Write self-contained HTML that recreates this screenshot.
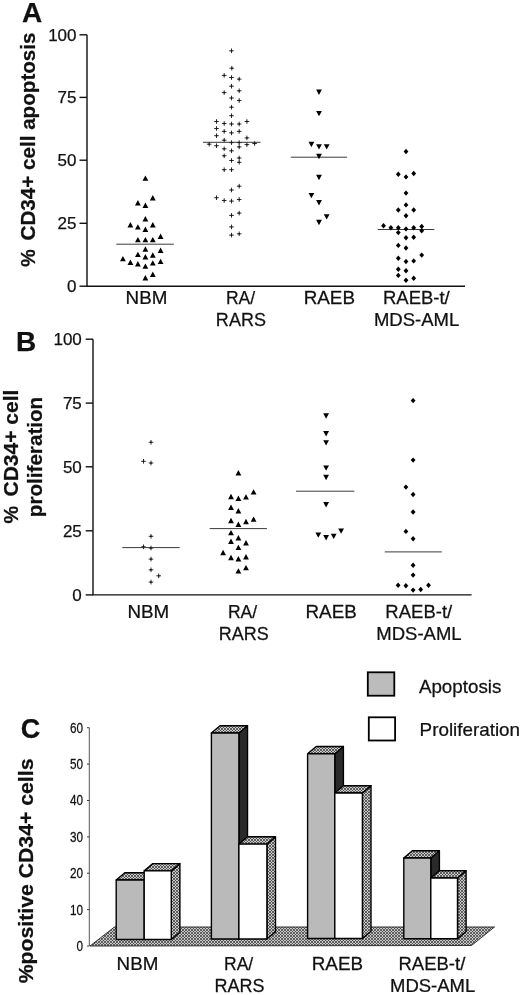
<!DOCTYPE html>
<html><head><meta charset="utf-8"><style>
html,body{margin:0;padding:0;background:#fff;width:520px;height:995px;overflow:hidden}
svg{display:block;filter:blur(0.3px)}
text{font-family:"Liberation Sans",sans-serif;fill:#111;stroke:#111;stroke-width:0.25px}
.pl{font-weight:bold;font-size:27px}
.tk{font-size:17px}
.xl{font-size:17.5px}
.yl{font-weight:bold;font-size:21px}
.lg{font-size:18px}
.tc{font-size:14px}
</style></head><body>
<svg width="520" height="995" viewBox="0 0 520 995">
<defs>
<pattern id="hatch" width="3" height="3" patternUnits="userSpaceOnUse">
<rect width="3" height="3" fill="#c8c8c8"/>
<path d="M-0.5 -0.5L3.5 3.5M3.5 -0.5L-0.5 3.5" stroke="#444" stroke-width="0.8"/>
</pattern>
</defs>
<rect width="520" height="995" fill="#fff"/>

<text x="32.05" y="21.7" class="pl" style="font-size:28px" text-anchor="middle">A</text>
<g stroke="#111" stroke-width="1.4" fill="none">
<path d="M87 34.8V286.2H465"/>
<path d="M79.5 34.8H87"/>
<path d="M79.5 97.4H87"/>
<path d="M79.5 160.2H87"/>
<path d="M79.5 223.3H87"/>
<path d="M79.5 286.2H87"/>
</g>
<g class="tk" text-anchor="end">
<text x="76.5" y="40.8">100</text>
<text x="76.5" y="103.4">75</text>
<text x="76.5" y="166.2">50</text>
<text x="76.5" y="229.3">25</text>
<text x="76.5" y="292.2">0</text>
</g>
<text class="yl" transform="translate(34.6,258.05) rotate(-90) scale(0.9389,1)" text-anchor="middle">%</text>
<text class="yl" transform="translate(34.6,136.45) rotate(-90) scale(0.9824,1)" text-anchor="middle">CD34+ cell apoptosis</text>
<g class="xl" text-anchor="middle">
<text transform="translate(146.45,303.8) scale(1.075,1)" x="0" y="0">NBM</text>
<text transform="translate(240.50,303.8) scale(1.000,1)" x="0" y="0">RA/</text>
<text transform="translate(240.89,326) scale(1.030,1)" x="0" y="0">RARS</text>
<text transform="translate(329.31,303.8) scale(1.078,1)" x="0" y="0">RAEB</text>
<text transform="translate(416.34,303.8) scale(1.058,1)" x="0" y="0">RAEB-t/</text>
<text transform="translate(416.57,326) scale(1.057,1)" x="0" y="0">MDS-AML</text>
</g>
<g stroke="#3a3a3a" stroke-width="1">
<path d="M116.3 244.2H173.8M203 142.3H260.5M290.8 157.2H347.1M377.7 229.5H434.3"/>
</g>
<g fill="#000"><path d="M145.4 175.4l2.9 5.4h-5.8z"/><path d="M152.8 195.0l2.9 5.4h-5.8z"/><path d="M137.9 200.0l2.9 5.4h-5.8z"/><path d="M145.4 202.5l2.9 5.4h-5.8z"/><path d="M145.4 216.0l2.9 5.4h-5.8z"/><path d="M130.4 222.1l2.9 5.4h-5.8z"/><path d="M137.9 224.2l2.9 5.4h-5.8z"/><path d="M152.8 222.1l2.9 5.4h-5.8z"/><path d="M145.4 226.6l2.9 5.4h-5.8z"/><path d="M160.6 233.6l2.9 5.4h-5.8z"/><path d="M137.9 236.9l2.9 5.4h-5.8z"/><path d="M145.4 236.9l2.9 5.4h-5.8z"/><path d="M152.8 236.9l2.9 5.4h-5.8z"/><path d="M145.4 246.3l2.9 5.4h-5.8z"/><path d="M160.6 247.5l2.9 5.4h-5.8z"/><path d="M137.9 251.7l2.9 5.4h-5.8z"/><path d="M152.8 252.3l2.9 5.4h-5.8z"/><path d="M145.4 254.1l2.9 5.4h-5.8z"/><path d="M122.9 255.9l2.9 5.4h-5.8z"/><path d="M130.4 259.6l2.9 5.4h-5.8z"/><path d="M137.9 261.1l2.9 5.4h-5.8z"/><path d="M152.8 260.2l2.9 5.4h-5.8z"/><path d="M160.6 258.7l2.9 5.4h-5.8z"/><path d="M145.4 263.4l2.9 5.4h-5.8z"/><path d="M152.8 271.6l2.9 5.4h-5.8z"/><path d="M145.4 275.0l2.9 5.4h-5.8z"/><path d="M319.0 94.9l2.9 -5.4h-5.8z"/><path d="M319.0 116.3l2.9 -5.4h-5.8z"/><path d="M311.4 147.2l2.9 -5.4h-5.8z"/><path d="M319.0 149.6l2.9 -5.4h-5.8z"/><path d="M326.7 149.6l2.9 -5.4h-5.8z"/><path d="M319.0 159.2l2.9 -5.4h-5.8z"/><path d="M319.0 180.2l2.9 -5.4h-5.8z"/><path d="M311.4 198.3l2.9 -5.4h-5.8z"/><path d="M319.0 205.4l2.9 -5.4h-5.8z"/><path d="M326.7 219.6l2.9 -5.4h-5.8z"/><path d="M319.0 225.2l2.9 -5.4h-5.8z"/><path d="M406.0 148.8l2.4 2.7l-2.4 2.7l-2.4 -2.7z"/><path d="M398.3 171.5l2.4 2.7l-2.4 2.7l-2.4 -2.7z"/><path d="M406.0 174.2l2.4 2.7l-2.4 2.7l-2.4 -2.7z"/><path d="M413.7 170.8l2.4 2.7l-2.4 2.7l-2.4 -2.7z"/><path d="M406.0 190.4l2.4 2.7l-2.4 2.7l-2.4 -2.7z"/><path d="M406.0 202.2l2.4 2.7l-2.4 2.7l-2.4 -2.7z"/><path d="M398.3 207.3l2.4 2.7l-2.4 2.7l-2.4 -2.7z"/><path d="M413.7 207.3l2.4 2.7l-2.4 2.7l-2.4 -2.7z"/><path d="M406.0 213.0l2.4 2.7l-2.4 2.7l-2.4 -2.7z"/><path d="M383.5 223.1l2.4 2.7l-2.4 2.7l-2.4 -2.7z"/><path d="M390.9 225.0l2.4 2.7l-2.4 2.7l-2.4 -2.7z"/><path d="M398.3 225.0l2.4 2.7l-2.4 2.7l-2.4 -2.7z"/><path d="M406.0 226.2l2.4 2.7l-2.4 2.7l-2.4 -2.7z"/><path d="M413.7 225.0l2.4 2.7l-2.4 2.7l-2.4 -2.7z"/><path d="M421.7 223.8l2.4 2.7l-2.4 2.7l-2.4 -2.7z"/><path d="M421.7 228.1l2.4 2.7l-2.4 2.7l-2.4 -2.7z"/><path d="M398.3 229.9l2.4 2.7l-2.4 2.7l-2.4 -2.7z"/><path d="M406.0 235.0l2.4 2.7l-2.4 2.7l-2.4 -2.7z"/><path d="M413.7 234.5l2.4 2.7l-2.4 2.7l-2.4 -2.7z"/><path d="M398.3 242.7l2.4 2.7l-2.4 2.7l-2.4 -2.7z"/><path d="M406.0 245.3l2.4 2.7l-2.4 2.7l-2.4 -2.7z"/><path d="M421.7 252.4l2.4 2.7l-2.4 2.7l-2.4 -2.7z"/><path d="M398.3 255.5l2.4 2.7l-2.4 2.7l-2.4 -2.7z"/><path d="M406.0 258.8l2.4 2.7l-2.4 2.7l-2.4 -2.7z"/><path d="M413.7 258.2l2.4 2.7l-2.4 2.7l-2.4 -2.7z"/><path d="M398.3 266.5l2.4 2.7l-2.4 2.7l-2.4 -2.7z"/><path d="M406.0 268.1l2.4 2.7l-2.4 2.7l-2.4 -2.7z"/><path d="M398.3 272.7l2.4 2.7l-2.4 2.7l-2.4 -2.7z"/><path d="M406.0 277.6l2.4 2.7l-2.4 2.7l-2.4 -2.7z"/><path d="M413.7 275.5l2.4 2.7l-2.4 2.7l-2.4 -2.7z"/></g>
<g stroke="#222" stroke-width="0.95" fill="none"><path d="M229.2 50.8h4.6M231.5 48.5v4.6"/><rect x="230.8" y="50.1" width="1.4" height="1.4" fill="#111" stroke="none"/><path d="M229.5 68.2h4.6M231.8 65.9v4.6"/><rect x="231.1" y="67.5" width="1.4" height="1.4" fill="#111" stroke="none"/><path d="M221.9 75.4h4.6M224.2 73.1v4.6"/><rect x="223.5" y="74.7" width="1.4" height="1.4" fill="#111" stroke="none"/><path d="M229.2 77.5h4.6M231.5 75.2v4.6"/><rect x="230.8" y="76.8" width="1.4" height="1.4" fill="#111" stroke="none"/><path d="M236.9 79.1h4.6M239.2 76.8v4.6"/><rect x="238.5" y="78.4" width="1.4" height="1.4" fill="#111" stroke="none"/><path d="M229.2 86.2h4.6M231.5 83.9v4.6"/><rect x="230.8" y="85.5" width="1.4" height="1.4" fill="#111" stroke="none"/><path d="M221.9 92.6h4.6M224.2 90.3v4.6"/><rect x="223.5" y="91.9" width="1.4" height="1.4" fill="#111" stroke="none"/><path d="M236.9 90.8h4.6M239.2 88.5v4.6"/><rect x="238.5" y="90.1" width="1.4" height="1.4" fill="#111" stroke="none"/><path d="M229.2 98.0h4.6M231.5 95.7v4.6"/><rect x="230.8" y="97.3" width="1.4" height="1.4" fill="#111" stroke="none"/><path d="M236.9 100.5h4.6M239.2 98.2v4.6"/><rect x="238.5" y="99.8" width="1.4" height="1.4" fill="#111" stroke="none"/><path d="M229.2 107.2h4.6M231.5 104.9v4.6"/><rect x="230.8" y="106.5" width="1.4" height="1.4" fill="#111" stroke="none"/><path d="M229.2 115.7h4.6M231.5 113.4v4.6"/><rect x="230.8" y="115.0" width="1.4" height="1.4" fill="#111" stroke="none"/><path d="M214.2 121.5h4.6M216.5 119.2v4.6"/><rect x="215.8" y="120.8" width="1.4" height="1.4" fill="#111" stroke="none"/><path d="M244.6 121.5h4.6M246.9 119.2v4.6"/><rect x="246.2" y="120.8" width="1.4" height="1.4" fill="#111" stroke="none"/><path d="M221.9 123.5h4.6M224.2 121.2v4.6"/><rect x="223.5" y="122.8" width="1.4" height="1.4" fill="#111" stroke="none"/><path d="M229.2 124.0h4.6M231.5 121.7v4.6"/><rect x="230.8" y="123.3" width="1.4" height="1.4" fill="#111" stroke="none"/><path d="M236.9 124.0h4.6M239.2 121.7v4.6"/><rect x="238.5" y="123.3" width="1.4" height="1.4" fill="#111" stroke="none"/><path d="M214.2 128.5h4.6M216.5 126.2v4.6"/><rect x="215.8" y="127.8" width="1.4" height="1.4" fill="#111" stroke="none"/><path d="M221.9 131.4h4.6M224.2 129.1v4.6"/><rect x="223.5" y="130.7" width="1.4" height="1.4" fill="#111" stroke="none"/><path d="M229.2 132.9h4.6M231.5 130.6v4.6"/><rect x="230.8" y="132.2" width="1.4" height="1.4" fill="#111" stroke="none"/><path d="M236.9 131.4h4.6M239.2 129.1v4.6"/><rect x="238.5" y="130.7" width="1.4" height="1.4" fill="#111" stroke="none"/><path d="M214.2 135.7h4.6M216.5 133.4v4.6"/><rect x="215.8" y="135.0" width="1.4" height="1.4" fill="#111" stroke="none"/><path d="M221.9 140.2h4.6M224.2 137.9v4.6"/><rect x="223.5" y="139.5" width="1.4" height="1.4" fill="#111" stroke="none"/><path d="M244.6 137.9h4.6M246.9 135.6v4.6"/><rect x="246.2" y="137.2" width="1.4" height="1.4" fill="#111" stroke="none"/><path d="M206.9 144.2h4.6M209.2 141.9v4.6"/><rect x="208.5" y="143.5" width="1.4" height="1.4" fill="#111" stroke="none"/><path d="M214.2 145.7h4.6M216.5 143.4v4.6"/><rect x="215.8" y="145.0" width="1.4" height="1.4" fill="#111" stroke="none"/><path d="M229.2 142.6h4.6M231.5 140.3v4.6"/><rect x="230.8" y="141.9" width="1.4" height="1.4" fill="#111" stroke="none"/><path d="M236.9 142.6h4.6M239.2 140.3v4.6"/><rect x="238.5" y="141.9" width="1.4" height="1.4" fill="#111" stroke="none"/><path d="M244.6 144.6h4.6M246.9 142.3v4.6"/><rect x="246.2" y="143.9" width="1.4" height="1.4" fill="#111" stroke="none"/><path d="M252.3 143.5h4.6M254.6 141.2v4.6"/><rect x="253.9" y="142.8" width="1.4" height="1.4" fill="#111" stroke="none"/><path d="M236.9 146.9h4.6M239.2 144.6v4.6"/><rect x="238.5" y="146.2" width="1.4" height="1.4" fill="#111" stroke="none"/><path d="M221.9 148.8h4.6M224.2 146.5v4.6"/><rect x="223.5" y="148.1" width="1.4" height="1.4" fill="#111" stroke="none"/><path d="M229.2 150.8h4.6M231.5 148.5v4.6"/><rect x="230.8" y="150.1" width="1.4" height="1.4" fill="#111" stroke="none"/><path d="M221.9 155.8h4.6M224.2 153.5v4.6"/><rect x="223.5" y="155.1" width="1.4" height="1.4" fill="#111" stroke="none"/><path d="M229.2 160.5h4.6M231.5 158.2v4.6"/><rect x="230.8" y="159.8" width="1.4" height="1.4" fill="#111" stroke="none"/><path d="M236.9 158.0h4.6M239.2 155.7v4.6"/><rect x="238.5" y="157.3" width="1.4" height="1.4" fill="#111" stroke="none"/><path d="M236.9 162.3h4.6M239.2 160.0v4.6"/><rect x="238.5" y="161.6" width="1.4" height="1.4" fill="#111" stroke="none"/><path d="M221.9 169.7h4.6M224.2 167.4v4.6"/><rect x="223.5" y="169.0" width="1.4" height="1.4" fill="#111" stroke="none"/><path d="M229.2 169.7h4.6M231.5 167.4v4.6"/><rect x="230.8" y="169.0" width="1.4" height="1.4" fill="#111" stroke="none"/><path d="M236.9 186.2h4.6M239.2 183.9v4.6"/><rect x="238.5" y="185.5" width="1.4" height="1.4" fill="#111" stroke="none"/><path d="M229.2 190.0h4.6M231.5 187.7v4.6"/><rect x="230.8" y="189.3" width="1.4" height="1.4" fill="#111" stroke="none"/><path d="M214.2 197.7h4.6M216.5 195.4v4.6"/><rect x="215.8" y="197.0" width="1.4" height="1.4" fill="#111" stroke="none"/><path d="M221.9 200.5h4.6M224.2 198.2v4.6"/><rect x="223.5" y="199.8" width="1.4" height="1.4" fill="#111" stroke="none"/><path d="M229.2 201.1h4.6M231.5 198.8v4.6"/><rect x="230.8" y="200.4" width="1.4" height="1.4" fill="#111" stroke="none"/><path d="M236.9 199.5h4.6M239.2 197.2v4.6"/><rect x="238.5" y="198.8" width="1.4" height="1.4" fill="#111" stroke="none"/><path d="M229.2 215.4h4.6M231.5 213.1v4.6"/><rect x="230.8" y="214.7" width="1.4" height="1.4" fill="#111" stroke="none"/><path d="M236.9 213.1h4.6M239.2 210.8v4.6"/><rect x="238.5" y="212.4" width="1.4" height="1.4" fill="#111" stroke="none"/><path d="M229.2 226.9h4.6M231.5 224.6v4.6"/><rect x="230.8" y="226.2" width="1.4" height="1.4" fill="#111" stroke="none"/><path d="M229.2 235.1h4.6M231.5 232.8v4.6"/><rect x="230.8" y="234.4" width="1.4" height="1.4" fill="#111" stroke="none"/><path d="M236.9 233.8h4.6M239.2 231.5v4.6"/><rect x="238.5" y="233.1" width="1.4" height="1.4" fill="#111" stroke="none"/></g>
<text x="26.15" y="350.6" class="pl" style="font-size:28px" text-anchor="middle">B</text>
<g stroke="#111" stroke-width="1.4" fill="none">
<path d="M93 339.2V594.9H471.6"/>
<path d="M85.7 339.2H93"/>
<path d="M85.7 403.1H93"/>
<path d="M85.7 466.8H93"/>
<path d="M85.7 530.8H93"/>
<path d="M85.7 594.9H93"/>
</g>
<g class="tk" text-anchor="end">
<text x="81.8" y="345.2">100</text>
<text x="81.8" y="409.1">75</text>
<text x="81.8" y="472.8">50</text>
<text x="81.8" y="536.8">25</text>
<text x="81.8" y="600.9">0</text>
</g>
<text class="yl" transform="translate(17.9,514.75) rotate(-90) scale(0.9389,1)" text-anchor="middle">%</text>
<text class="yl" transform="translate(17.9,443.10) rotate(-90) scale(1.0000,1)" text-anchor="middle">CD34+ cell</text>
<text class="yl" transform="translate(41.8,457.00) rotate(-90) scale(0.9833,1)" text-anchor="middle">proliferation</text>
<g class="xl" text-anchor="middle">
<text transform="translate(148.35,617.9) scale(1.075,1)" x="0" y="0">NBM</text>
<text transform="translate(242.50,617.9) scale(1.000,1)" x="0" y="0">RA/</text>
<text transform="translate(243.79,640.2) scale(1.030,1)" x="0" y="0">RARS</text>
<text transform="translate(331.16,617.9) scale(1.078,1)" x="0" y="0">RAEB</text>
<text transform="translate(418.74,617.9) scale(1.058,1)" x="0" y="0">RAEB-t/</text>
<text transform="translate(418.97,640.2) scale(1.057,1)" x="0" y="0">MDS-AML</text>
</g>
<g stroke="#3a3a3a" stroke-width="1">
<path d="M122.3 547.6H179.7M209.7 528.6H266.9M296 491.2H354.3M384.8 551.9H441.8"/>
</g>
<g fill="#000"><path d="M238.4 470.0l2.9 5.4h-5.8z"/><path d="M253.6 489.2l2.9 5.4h-5.8z"/><path d="M231.0 493.8l2.9 5.4h-5.8z"/><path d="M238.4 495.6l2.9 5.4h-5.8z"/><path d="M246.0 494.2l2.9 5.4h-5.8z"/><path d="M231.0 504.6l2.9 5.4h-5.8z"/><path d="M238.4 508.1l2.9 5.4h-5.8z"/><path d="M231.0 517.8l2.9 5.4h-5.8z"/><path d="M246.0 518.8l2.9 5.4h-5.8z"/><path d="M253.6 516.4l2.9 5.4h-5.8z"/><path d="M238.4 521.5l2.9 5.4h-5.8z"/><path d="M231.0 529.9l2.9 5.4h-5.8z"/><path d="M238.4 535.0l2.9 5.4h-5.8z"/><path d="M231.0 538.6l2.9 5.4h-5.8z"/><path d="M246.0 540.0l2.9 5.4h-5.8z"/><path d="M238.4 544.7l2.9 5.4h-5.8z"/><path d="M223.1 549.8l2.9 5.4h-5.8z"/><path d="M231.0 554.8l2.9 5.4h-5.8z"/><path d="M238.4 556.1l2.9 5.4h-5.8z"/><path d="M246.0 554.1l2.9 5.4h-5.8z"/><path d="M246.0 564.9l2.9 5.4h-5.8z"/><path d="M238.4 568.2l2.9 5.4h-5.8z"/><path d="M326.1 418.7l2.9 -5.4h-5.8z"/><path d="M326.1 436.4l2.9 -5.4h-5.8z"/><path d="M326.1 445.6l2.9 -5.4h-5.8z"/><path d="M326.1 470.8l2.9 -5.4h-5.8z"/><path d="M326.1 480.2l2.9 -5.4h-5.8z"/><path d="M326.1 507.5l2.9 -5.4h-5.8z"/><path d="M341.1 533.8l2.9 -5.4h-5.8z"/><path d="M318.3 537.8l2.9 -5.4h-5.8z"/><path d="M333.7 539.1l2.9 -5.4h-5.8z"/><path d="M326.1 540.5l2.9 -5.4h-5.8z"/><path d="M413.1 397.9l2.4 2.7l-2.4 2.7l-2.4 -2.7z"/><path d="M413.1 457.4l2.4 2.7l-2.4 2.7l-2.4 -2.7z"/><path d="M405.9 484.4l2.4 2.7l-2.4 2.7l-2.4 -2.7z"/><path d="M413.1 491.8l2.4 2.7l-2.4 2.7l-2.4 -2.7z"/><path d="M413.1 509.3l2.4 2.7l-2.4 2.7l-2.4 -2.7z"/><path d="M405.9 528.7l2.4 2.7l-2.4 2.7l-2.4 -2.7z"/><path d="M413.1 536.1l2.4 2.7l-2.4 2.7l-2.4 -2.7z"/><path d="M413.1 562.5l2.4 2.7l-2.4 2.7l-2.4 -2.7z"/><path d="M413.1 572.4l2.4 2.7l-2.4 2.7l-2.4 -2.7z"/><path d="M398.1 582.6l2.4 2.7l-2.4 2.7l-2.4 -2.7z"/><path d="M405.9 583.0l2.4 2.7l-2.4 2.7l-2.4 -2.7z"/><path d="M413.1 587.4l2.4 2.7l-2.4 2.7l-2.4 -2.7z"/><path d="M420.7 586.8l2.4 2.7l-2.4 2.7l-2.4 -2.7z"/><path d="M428.5 582.6l2.4 2.7l-2.4 2.7l-2.4 -2.7z"/></g>
<g stroke="#222" stroke-width="0.95" fill="none"><path d="M148.7 442.3h4.6M151.0 440.0v4.6"/><rect x="150.3" y="441.6" width="1.4" height="1.4" fill="#111" stroke="none"/><path d="M141.2 461.3h4.6M143.5 459.0v4.6"/><rect x="142.8" y="460.6" width="1.4" height="1.4" fill="#111" stroke="none"/><path d="M148.7 463.0h4.6M151.0 460.7v4.6"/><rect x="150.3" y="462.3" width="1.4" height="1.4" fill="#111" stroke="none"/><path d="M148.7 536.3h4.6M151.0 534.0v4.6"/><rect x="150.3" y="535.6" width="1.4" height="1.4" fill="#111" stroke="none"/><path d="M141.2 546.8h4.6M143.5 544.5v4.6"/><rect x="142.8" y="546.1" width="1.4" height="1.4" fill="#111" stroke="none"/><path d="M148.7 548.0h4.6M151.0 545.7v4.6"/><rect x="150.3" y="547.3" width="1.4" height="1.4" fill="#111" stroke="none"/><path d="M148.7 559.1h4.6M151.0 556.8v4.6"/><rect x="150.3" y="558.4" width="1.4" height="1.4" fill="#111" stroke="none"/><path d="M148.7 569.8h4.6M151.0 567.5v4.6"/><rect x="150.3" y="569.1" width="1.4" height="1.4" fill="#111" stroke="none"/><path d="M156.4 575.8h4.6M158.7 573.5v4.6"/><rect x="158.0" y="575.1" width="1.4" height="1.4" fill="#111" stroke="none"/><path d="M148.7 582.1h4.6M151.0 579.8v4.6"/><rect x="150.3" y="581.4" width="1.4" height="1.4" fill="#111" stroke="none"/></g>
<text x="30.6" y="737.8" class="pl" text-anchor="middle">C</text>
<rect x="367.8" y="672.3" width="26.5" height="23.4" fill="#bcbcbc" stroke="#000" stroke-width="1.8"/>
<rect x="368.8" y="717.3" width="26.3" height="23.2" fill="#fff" stroke="#000" stroke-width="1.8"/>
<text class="lg" transform="translate(418.9,692.8) scale(1.044,1)">Apoptosis</text>
<text class="lg" transform="translate(419.6,735.6) scale(1.047,1)">Proliferation</text>
<path d="M89.3 727.7V946" stroke="#555" stroke-width="1" fill="none"/>
<g stroke="#3a3a3a" stroke-width="1">
<path d="M87 946.0H89.3"/>
<path d="M87 909.6H89.3"/>
<path d="M87 873.2H89.3"/>
<path d="M87 836.9H89.3"/>
<path d="M87 800.5H89.3"/>
<path d="M87 764.1H89.3"/>
<path d="M87 727.7H89.3"/>
</g>
<g class="tc" text-anchor="end">
<text x="83.1" y="951.0" transform="translate(13.30,0) scale(0.84,1)" >0</text>
<text x="83.1" y="914.6" transform="translate(13.30,0) scale(0.84,1)" >10</text>
<text x="83.1" y="878.2" transform="translate(13.30,0) scale(0.84,1)" >20</text>
<text x="83.1" y="841.9" transform="translate(13.30,0) scale(0.84,1)" >30</text>
<text x="83.1" y="805.5" transform="translate(13.30,0) scale(0.84,1)" >40</text>
<text x="83.1" y="769.1" transform="translate(13.30,0) scale(0.84,1)" >50</text>
<text x="83.1" y="732.7" transform="translate(13.30,0) scale(0.84,1)" >60</text>
</g>
<text class="yl" transform="translate(33.2,870.95) rotate(-90) scale(1.0113,1)" text-anchor="middle">%positive CD34+ cells</text>
<path d="M90 946L114.5 927H494.5L471.5 945.5Z" fill="url(#hatch)" stroke="#333" stroke-width="1"/>
<g stroke="#000" stroke-width="1.4" stroke-linejoin="round"><path d="M144.2 880l8.6 -7.3V932.2l-8.6 7.3Z" fill="#2a2a2a"/><path d="M116.2 880l8.6 -7.3H152.79999999999998l-8.6 7.3Z" fill="url(#hatch)"/><rect x="116.2" y="880" width="28.0" height="59.5" fill="#bababa"/></g>
<g stroke="#000" stroke-width="1.4" stroke-linejoin="round"><path d="M171.3 870.9l8.6 -7.3V932.2l-8.6 7.3Z" fill="url(#hatch)"/><path d="M144.2 870.9l8.6 -7.3H179.9l-8.6 7.3Z" fill="url(#hatch)"/><rect x="144.2" y="870.9" width="27.1" height="68.6" fill="#ffffff"/></g>
<g stroke="#000" stroke-width="1.4" stroke-linejoin="round"><path d="M238.9 733l8.6 -7.3V931.7l-8.6 7.3Z" fill="#2a2a2a"/><path d="M211.4 733l8.6 -7.3H247.5l-8.6 7.3Z" fill="url(#hatch)"/><rect x="211.4" y="733" width="27.5" height="206.0" fill="#bababa"/></g>
<g stroke="#000" stroke-width="1.4" stroke-linejoin="round"><path d="M266.9 844.1l8.6 -7.3V931.7l-8.6 7.3Z" fill="url(#hatch)"/><path d="M238.9 844.1l8.6 -7.3H275.5l-8.6 7.3Z" fill="url(#hatch)"/><rect x="238.9" y="844.1" width="28.0" height="94.9" fill="#ffffff"/></g>
<g stroke="#000" stroke-width="1.4" stroke-linejoin="round"><path d="M334.8 753.8l8.6 -7.3V931.2l-8.6 7.3Z" fill="#2a2a2a"/><path d="M307.6 753.8l8.6 -7.3H343.40000000000003l-8.6 7.3Z" fill="url(#hatch)"/><rect x="307.6" y="753.8" width="27.2" height="184.7" fill="#bababa"/></g>
<g stroke="#000" stroke-width="1.4" stroke-linejoin="round"><path d="M362.4 793l8.6 -7.3V931.2l-8.6 7.3Z" fill="url(#hatch)"/><path d="M334.8 793l8.6 -7.3H371.0l-8.6 7.3Z" fill="url(#hatch)"/><rect x="334.8" y="793" width="27.6" height="145.5" fill="#ffffff"/></g>
<g stroke="#000" stroke-width="1.4" stroke-linejoin="round"><path d="M430.8 858l8.6 -7.3V931.5l-8.6 7.3Z" fill="#2a2a2a"/><path d="M403.8 858l8.6 -7.3H439.40000000000003l-8.6 7.3Z" fill="url(#hatch)"/><rect x="403.8" y="858" width="27.0" height="80.8" fill="#bababa"/></g>
<g stroke="#000" stroke-width="1.4" stroke-linejoin="round"><path d="M457.5 878l8.6 -7.3V931.5l-8.6 7.3Z" fill="url(#hatch)"/><path d="M430.8 878l8.6 -7.3H466.1l-8.6 7.3Z" fill="url(#hatch)"/><rect x="430.8" y="878" width="26.7" height="60.8" fill="#ffffff"/></g>
<g class="xl" text-anchor="middle">
<text transform="translate(137.45,969.6) scale(1.075,1)" x="0" y="0">NBM</text>
<text transform="translate(238.60,969.6) scale(1.000,1)" x="0" y="0">RA/</text>
<text transform="translate(239.49,991.5) scale(1.030,1)" x="0" y="0">RARS</text>
<text transform="translate(337.41,969.6) scale(1.078,1)" x="0" y="0">RAEB</text>
<text transform="translate(431.89,969.6) scale(1.058,1)" x="0" y="0">RAEB-t/</text>
<text transform="translate(432.62,991.5) scale(1.057,1)" x="0" y="0">MDS-AML</text>
</g>
</svg>
</body></html>
